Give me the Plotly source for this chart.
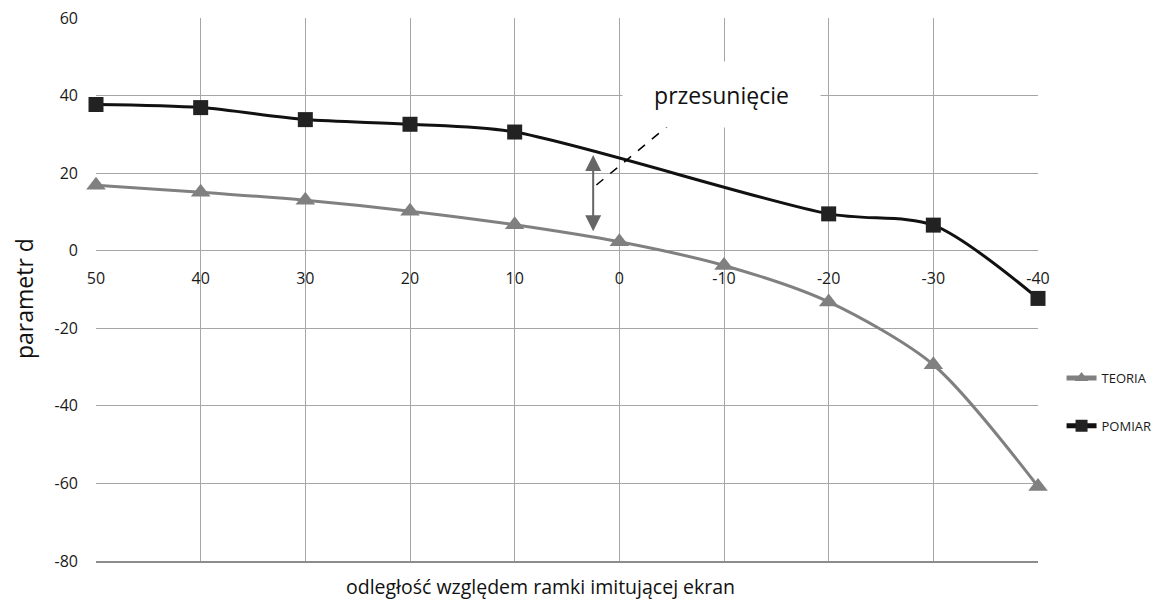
import plotly.graph_objects as go

# ---- data ----
distance = [50, 40, 30, 20, 10, 0, -10, -20, -30, -40]
teoria = [16.9, 15.1, 13.0, 10.2, 6.7, 2.3, -3.8, -13.2, -29.4, -60.8]
pomiar = [37.7, 36.9, 33.8, 32.6, 30.6, None, None, 9.5, 6.6, -12.3]
y_ticks = [60, 40, 20, 0, -20, -40, -60, -80]

FONT = "Open Sans"
GRID = "#a6a6a6"
TXT = "#1a1a1a"

fig = go.Figure()
fig.add_trace(go.Scatter(
    x=distance, y=teoria, name="TEORIA", mode="lines+markers", cliponaxis=False,
    line=dict(color="#808080", width=3, shape="spline", smoothing=0.8),
    marker=dict(symbol="triangle-up", size=17, color="#808080"),
    legend="legend",
))
fig.add_trace(go.Scatter(
    x=distance, y=pomiar, name="POMIAR", mode="lines+markers", connectgaps=True,
    cliponaxis=False,
    line=dict(color="#111111", width=3, shape="spline", smoothing=0.8),
    marker=dict(symbol="square", size=15, color="#222222"),
    legend="legend2",
))

xr = [max(distance), min(distance)]
yr = [min(y_ticks), max(y_ticks)]
zero_pos = (0 - yr[0]) / (yr[1] - yr[0])

legend_style = dict(xanchor="left", yanchor="middle", itemsizing="constant",
                    font=dict(size=13, family=FONT, color=TXT),
                    bgcolor="rgba(0,0,0,0)", itemwidth=30)

fig.update_layout(
    width=1158, height=601,
    margin=dict(l=96, r=120, t=18, b=40, autoexpand=False),
    paper_bgcolor="white", plot_bgcolor="white",
    font=dict(family=FONT, color=TXT),
    xaxis=dict(range=xr, dtick=10, showgrid=True, gridcolor=GRID, gridwidth=1,
               showticklabels=False, zeroline=False, showline=True,
               linecolor="#8c8c8c", linewidth=1.5, ticks=""),
    xaxis2=dict(range=xr, overlaying="x", anchor="free", position=zero_pos,
                side="bottom", tickvals=distance, ticktext=[str(d) for d in distance],
                showgrid=False, zeroline=False, showline=False, ticks="",
                tickfont=dict(size=16, family=FONT, color=TXT),
                ticklabelstandoff=16),
    yaxis=dict(range=yr, tickvals=y_ticks, ticktext=[str(v) for v in y_ticks],
               showgrid=True, gridcolor=GRID, gridwidth=1,
               zeroline=False, showline=False, ticks="",
               tickfont=dict(size=16, family=FONT, color=TXT),
               ticklabelstandoff=17),
    legend=dict(x=1.025, y=0.337, **legend_style),
    legend2=dict(x=1.025, y=0.249, **legend_style),
)

# dummy trace to activate xaxis2 tick labels
fig.add_trace(go.Scatter(x=distance, y=[None] * len(distance), xaxis="x2",
                         showlegend=False, hoverinfo="skip"))

# dashed leader line for label
fig.add_shape(type="line", xref="x", yref="y", x0=-5.1, y0=33.2, x1=2.3, y1=16.7,
              line=dict(color="black", width=1.5, dash="dash"))

# double arrow showing shift
fig.add_annotation(x=2.5, y=24.7, ax=2.5, ay=4.6, xref="x", yref="y",
                   axref="x", ayref="y", text="", showarrow=True,
                   arrowhead=2, startarrowhead=2, arrowside="end+start",
                   arrowsize=1.6, startarrowsize=1.6, arrowwidth=2,
                   arrowcolor="#666666")

# label box
fig.add_annotation(x=-9.8, y=40.3, xref="x", yref="y", text="przesunięcie",
                   showarrow=False, bgcolor="white", width=195, height=63,
                   xanchor="center", yanchor="middle",
                   font=dict(size=23, family=FONT, color="#111111"))

# axis titles
fig.add_annotation(x=(24 - 96) / 942, y=(561 - 299) / 543, xref="paper", yref="paper",
                   xanchor="center", yanchor="middle",
                   text="parametr d", textangle=-90, showarrow=False,
                   font=dict(size=23, family=FONT, color="#111111"))
fig.add_annotation(x=(540 - 96) / 942, y=(561 - 586) / 543, xref="paper", yref="paper",
                   xanchor="center", yanchor="middle",
                   text="odległość względem ramki imitującej ekran", showarrow=False,
                   font=dict(size=19.5, family=FONT, color="#111111"))

fig.write_html("out.html")
